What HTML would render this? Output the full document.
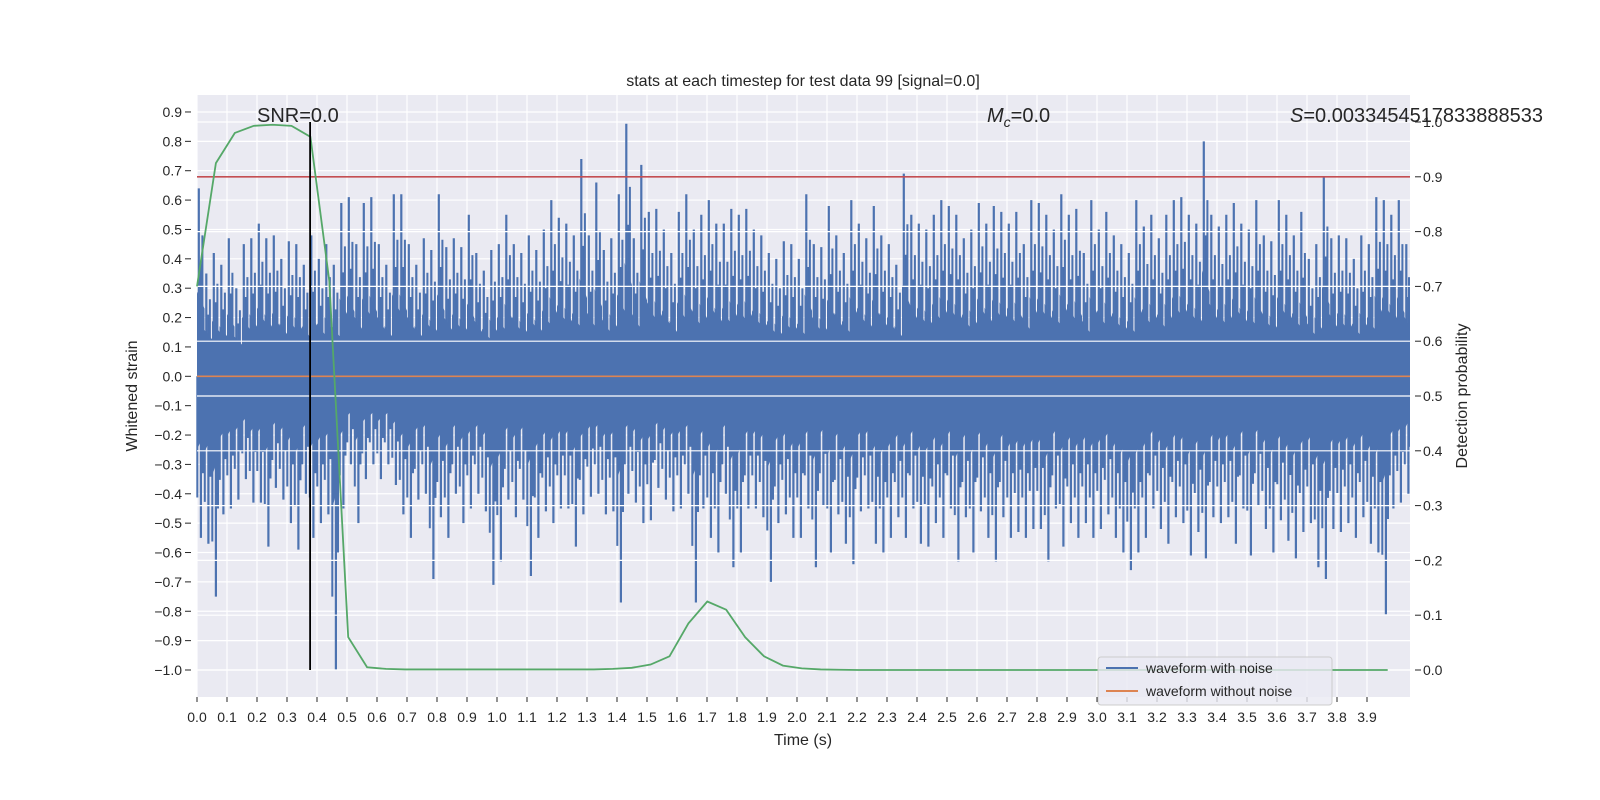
<!DOCTYPE html>
<html><head><meta charset="utf-8"><style>
html,body{margin:0;padding:0;background:#fff;}
svg{display:block;font-family:"Liberation Sans","DejaVu Sans",sans-serif;}
</style></head><body>
<svg id="chart" width="1600" height="800" viewBox="0 0 1600 800" xmlns="http://www.w3.org/2000/svg">
<rect x="0" y="0" width="1600" height="800" fill="#fff"/>
<rect x="197" y="95" width="1213" height="602" fill="#eaeaf2"/>
<g id="gridL"></g>
<g id="wave"></g>
<g id="gridR"></g>
<g id="overlay"></g>
<g id="ticks"></g>
<text x="803" y="86" font-size="16" fill="#262626" text-anchor="middle">stats at each timestep for test data 99 [signal=0.0]</text>
<text x="803" y="745" font-size="16" fill="#262626" text-anchor="middle">Time (s)</text>
<text transform="translate(137,396) rotate(-90)" font-size="16" fill="#262626" text-anchor="middle">Whitened strain</text>
<text transform="translate(1467,396) rotate(-90)" font-size="16" fill="#262626" text-anchor="middle">Detection probability</text>
<text x="257" y="122" font-size="20" fill="#262626">SNR=0.0</text>
<text x="987" y="122" font-size="20" fill="#262626"><tspan font-style="italic">M</tspan><tspan font-style="italic" font-size="14" dy="5">c</tspan><tspan dy="-5">=0.0</tspan></text>
<text x="1290" y="122" font-size="20" fill="#262626"><tspan font-style="italic">S</tspan>=0.0033454517833888533</text>
<g id="legendG">
<rect x="1098" y="657" width="234" height="48" rx="3" fill="#eaeaf2" fill-opacity="0.8" stroke="#cccccc"/>
<line x1="1106" y1="668" x2="1138" y2="668" stroke="#4c72b0" stroke-width="2"/>
<text x="1146" y="673" font-size="14" fill="#262626">waveform with noise</text>
<line x1="1106" y1="691" x2="1138" y2="691" stroke="#dd8452" stroke-width="2"/>
<text x="1146" y="696" font-size="14" fill="#262626">waveform without noise</text>
</g>
</svg>
<script>
const hiVals=[0.64,0.35,0.42,0.38,0.47,0.30,0.45,0.47, 0.52,0.47,0.48,0.40,0.46,0.45,0.38,0.48, 0.40,0.45,0.38,0.59,0.61,0.45,0.59,0.61, 0.45,0.38,0.62,0.62,0.45,0.38,0.47,0.43, 0.62,0.44,0.47,0.44,0.55,0.42,0.36,0.43, 0.45,0.55,0.45,0.42,0.48,0.43,0.50,0.60, 0.54,0.52,0.48,0.74,0.48,0.66,0.43,0.47, 0.62,0.86,0.47,0.72,0.56,0.57,0.50,0.42, 0.56,0.62,0.50,0.55,0.60,0.52,0.52,0.57, 0.55,0.57,0.50,0.48,0.42,0.40,0.46,0.45, 0.40,0.62,0.45,0.44,0.58,0.48,0.42,0.60, 0.52,0.47,0.58,0.48,0.45,0.38,0.69,0.55, 0.52,0.50,0.55,0.60,0.58,0.55,0.47,0.50, 0.59,0.52,0.58,0.56,0.52,0.56,0.45,0.60, 0.59,0.55,0.50,0.62,0.55,0.57,0.42,0.60, 0.50,0.56,0.48,0.45,0.42,0.60,0.51,0.55, 0.47,0.55,0.60,0.61,0.55,0.52,0.80,0.55, 0.51,0.55,0.59,0.52,0.50,0.60,0.48,0.46, 0.60,0.55,0.48,0.56,0.40,0.45,0.68,0.47, 0.48,0.47,0.40,0.48,0.45,0.61,0.60,0.55, 0.60,0.45];
const loVals=[-0.55,-0.57,-0.75,-0.47,-0.45,-0.42,-0.35,-0.43, -0.43,-0.58,-0.38,-0.42,-0.50,-0.59,-0.40,-0.55, -0.5,-0.47,-1.0,-0.45,-0.30,-0.5,-0.35,-0.3, -0.35,-0.3,-0.37,-0.47,-0.55,-0.42,-0.4,-0.69, -0.48,-0.55,-0.40,-0.50,-0.45,-0.40,-0.46,-0.71, -0.63,-0.42,-0.48,-0.42,-0.68,-0.55,-0.46,-0.50, -0.45,-0.45,-0.58,-0.47,-0.41,-0.40,-0.47,-0.46, -0.77,-0.40,-0.43,-0.50,-0.49,-0.38,-0.42,-0.46, -0.45,-0.40,-0.77,-0.45,-0.55,-0.60,-0.40,-0.65, -0.60,-0.45,-0.45,-0.48,-0.70,-0.50,-0.47,-0.55, -0.55,-0.45,-0.65,-0.44,-0.60,-0.47,-0.57,-0.64, -0.46,-0.45,-0.57,-0.60,-0.55,-0.48,-0.55,-0.45, -0.57,-0.58,-0.50,-0.55,-0.45,-0.63,-0.48,-0.60, -0.46,-0.55,-0.63,-0.48,-0.55,-0.53,-0.55,-0.52, -0.52,-0.63,-0.45,-0.58,-0.50,-0.55,-0.50,-0.55, -0.52,-0.47,-0.55,-0.60,-0.66,-0.60,-0.55,-0.45, -0.52,-0.57,-0.48,-0.50,-0.61,-0.53,-0.62,-0.48, -0.50,-0.48,-0.57,-0.45,-0.61,-0.44,-0.52,-0.60, -0.49,-0.56,-0.62,-0.53,-0.50,-0.65,-0.69,-0.52, -0.53,-0.50,-0.55,-0.48,-0.57,-0.60,-0.81,-0.45, -0.43,-0.40];
const binWidth=0.025;
const probVals=[0.70,0.925,0.98,0.993,0.995,0.993,0.973,0.71,0.06,0.005,0.002,0.001,0.001,0.001,0.001,0.001,0.001,0.001,0.001,0.001,0.001,0.001,0.002,0.004,0.01,0.025,0.085,0.125,0.11,0.06,0.025,0.008,0.003,0.001,0.0005,0,0,0,0,0,0,0,0,0,0,0,0,0,0,0,0,0,0,0,0,0,0,0,0,0,0,0,0,0];
const probStep=0.063;
const xTicks=[0.0,0.1,0.2,0.3,0.4,0.5,0.6,0.7,0.8,0.9,1.0,1.1,1.2,1.3,1.4,1.5,1.6,1.7,1.8,1.9,2.0,2.1,2.2,2.3,2.4,2.5,2.6,2.7,2.8,2.9,3.0,3.1,3.2,3.3,3.4,3.5,3.6,3.7,3.8,3.9];
const yTicksL=[0.9,0.8,0.7,0.6,0.5,0.4,0.3,0.2,0.1,0.0,-0.1,-0.2,-0.3,-0.4,-0.5,-0.6,-0.7,-0.8,-0.9,-1.0];
const yTicksR=[0.0,0.1,0.2,0.3,0.4,0.5,0.6,0.7,0.8,0.9,1.0];
const threshold=0.9;
const markerTime=0.377;

(function(){
const NS='http://www.w3.org/2000/svg';
const X0=197,X1=1410,Y0=95,Y1=697;
function xs(t){return 197+t*300;}
function yl(v){return 376.3-v*293.7;}
function yr(v){return 670-v*548;}
function mk(tag,attrs,parent){const e=document.createElementNS(NS,tag);for(const k in attrs)e.setAttribute(k,attrs[k]);parent.appendChild(e);return e;}
const gL=document.getElementById('gridL'),gW=document.getElementById('wave'),gR=document.getElementById('gridR'),gO=document.getElementById('overlay'),gT=document.getElementById('ticks');

xTicks.forEach(t=>{
  const l=mk('line',{x1:xs(t),x2:xs(t),y1:Y0,y2:Y1,stroke:'#fff','stroke-width':1.2},gL);
  
  
  const tk=mk('line',{x1:xs(t),x2:xs(t),y1:Y1,y2:Y1+5,stroke:'#262626','stroke-width':1},gT);
  
  
  const tx=mk('text',{x:xs(t),y:Y1+25,'font-size':14,fill:'#262626','text-anchor':'middle'},gT);
  tx.textContent=t.toFixed(1);
  
  
});
yTicksL.forEach(v=>{
  const l=mk('line',{x1:X0,x2:X1,y1:yl(v),y2:yl(v),stroke:'#fff','stroke-width':1.2},gL);
  
  
  const tk=mk('line',{x1:X0-12,x2:X0-6,y1:yl(v),y2:yl(v),stroke:'#262626','stroke-width':1},gT);
  
  
  const tx=mk('text',{x:X0-15,y:yl(v)+5,'font-size':14,fill:'#262626','text-anchor':'end'},gT);
  tx.textContent=(v<0?'\u2212'+Math.abs(v).toFixed(1):v.toFixed(1));
  
  
});
yTicksR.forEach(v=>{
  const l=mk('line',{x1:X0,x2:X1,y1:yr(v),y2:yr(v),stroke:'#fff','stroke-width':1.2},gR);
  
  
  const tk=mk('line',{x1:X1+5,x2:X1+11,y1:yr(v),y2:yr(v),stroke:'#262626','stroke-width':1},gT);
  
  
  const tx=mk('text',{x:X1+13,y:yr(v)+5,'font-size':14,fill:'#262626'},gT);
  tx.textContent=v.toFixed(1);
  
  
});

let upperEdge='',lowerEdge='';
hiVals.forEach((h,i)=>{const x=Math.min(xs(i*binWidth),X1);const x2=Math.min(xs((i+1)*binWidth),X1);upperEdge+=`${x},${yl(h*0.45)} ${x2},${yl(h*0.36)} `;});
for(let i=loVals.length-1;i>=0;i--){const x=Math.min(xs(i*binWidth),X1);const x2=Math.min(xs((i+1)*binWidth),X1);lowerEdge+=`${x2},${yl(loVals[i]*0.36)} ${x},${yl(loVals[i]*0.45)} `;}
const band=mk('polygon',{points:upperEdge+lowerEdge,fill:'#4c72b0'},gW);


hiVals.forEach((h,i)=>{
  const x=Math.min(xs(i*binWidth+0.006),X1-1);
  const s=mk('line',{x1:x,x2:x,y1:yl(0),y2:yl(h),stroke:'#4c72b0','stroke-width':2.2},gW);
  
  
  const x2=Math.min(xs(i*binWidth+0.018),X1-1);
  const s2=mk('line',{x1:x2,x2:x2,y1:yl(0),y2:yl(h*0.75),stroke:'#4c72b0','stroke-width':2},gW);
  
  
  const x3=Math.min(xs(i*binWidth+0.012),X1-1);
  const s3=mk('line',{x1:x3,x2:x3,y1:yl(0),y2:yl(h*0.6),stroke:'#4c72b0','stroke-width':2},gW);
  
  
});
loVals.forEach((v,i)=>{
  const x=Math.min(xs(i*binWidth+0.013),X1-1);
  const s=mk('line',{x1:x,x2:x,y1:yl(0),y2:yl(v),stroke:'#4c72b0','stroke-width':2.2},gW);
  
  
  const x2=Math.min(xs(i*binWidth+0.001),X1-1);
  const s2=mk('line',{x1:x2,x2:x2,y1:yl(0),y2:yl(v*0.75),stroke:'#4c72b0','stroke-width':2},gW);
  
  
  const x3=Math.min(xs(i*binWidth+0.020),X1-1);
  const s3=mk('line',{x1:x3,x2:x3,y1:yl(0),y2:yl(v*0.6),stroke:'#4c72b0','stroke-width':2},gW);
  
  
});

const orange=mk('line',{x1:X0,x2:X1,y1:yl(0),y2:yl(0),stroke:'#dd8452','stroke-width':1.6},gO);


const red=mk('line',{x1:X0,x2:X1,y1:yr(threshold),y2:yr(threshold),stroke:'#c44e52','stroke-width':1.6},gO);


const pts=probVals.map((p,i)=>`${xs(i*probStep)},${yr(p)}`).join(' ');
const green=mk('polyline',{points:pts,fill:'none',stroke:'#55a868','stroke-width':1.8},gO);


const black=mk('line',{x1:xs(markerTime),x2:xs(markerTime),y1:yr(1.0),y2:yl(-1.0),stroke:'#000','stroke-width':1.8},gO);


})();
</script>
</body></html>
